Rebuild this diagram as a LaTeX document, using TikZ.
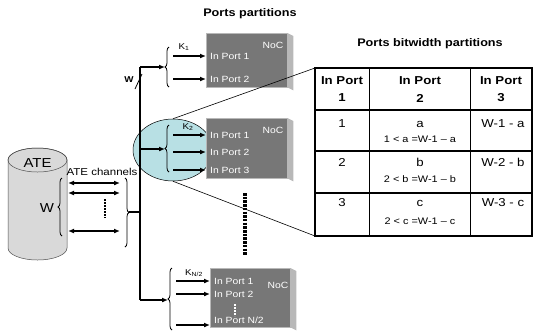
\documentclass[tikz,border=0pt]{standalone}
\usepackage{fontspec}
\setmainfont{Liberation Sans}[FakeStretch=1.15]
\usetikzlibrary{arrows.meta,calc,shapes.geometric,decorations.pathreplacing}
\definecolor{nocgray}{HTML}{777777}
\definecolor{nocside}{HTML}{B8B8B8}
\definecolor{zoomblue}{HTML}{B8E0E4}
\definecolor{ategray}{HTML}{D9D9D9}

\begin{document}
\begin{tikzpicture}[x=1pt,y=-1pt,
    conn/.style={line width=1.3pt},
    arr/.style={line width=1.3pt,-{Latex[length=6pt,width=5pt]}},
    darr/.style={line width=1.3pt,{Latex[length=6pt,width=5pt]}-{Latex[length=6pt,width=5pt]}},
    bracepath/.style={decorate,decoration={brace,amplitude=4pt},line width=0.8pt},
    noc/.style={draw=nocside,fill=nocgray,anchor=north west,inner sep=0pt},
    port/.style={anchor=west,inner xsep=4pt,inner ysep=0pt,text=white,font=\fontsize{9}{10}\selectfont},
    nocname/.style={text=white,inner sep=0pt,font=\fontsize{9}{10}\selectfont},
    klabel/.style={inner sep=0pt,font=\fontsize{8.5}{9}\selectfont},
    title/.style={inner sep=0pt,font=\bfseries\fontsize{11}{13}\selectfont},
    hdr/.style={inner sep=0pt,font=\bfseries\fontsize{11.5}{13}\selectfont},
    cell/.style={inner sep=0pt,font=\fontsize{11.5}{13}\selectfont},
    subcell/.style={inner sep=0pt,font=\fontsize{9.5}{11}\selectfont},
    bigdots/.style={dash pattern=on 2.5pt off 1.2pt}]
    \useasboundingbox (0,0) rectangle (533,333);

    % ATE cylinder
    \filldraw[fill=ategray,draw=black!70,line width=0.5pt] (8,160) -- (8,248)
        arc[start angle=180,end angle=360,x radius=29.5pt,y radius=12pt] -- (67,160)
        arc[start angle=0,end angle=180,x radius=29.5pt,y radius=12pt] -- cycle;
    \draw[black!70,line width=0.5pt] (37.5,160) ellipse[x radius=29.5pt,y radius=12pt];
    \node[inner sep=0pt,font=\fontsize{13}{14}\selectfont] (ate) at (37.5,163) {ATE};
    \node[inner sep=0pt,font=\fontsize{13}{14}\selectfont] (w) at (47,208) {W};
    \node[inner sep=0pt,font=\fontsize{10}{11}\selectfont] (channels) at (102,172) {ATE channels};
    \draw[bracepath] (62,236) -- (62,178);

    % channels
    \foreach \i/\y in {1/183,2/193,3/231} {
        \coordinate (chl\i) at (68,\y);
        \coordinate (chr\i) at (120,\y);
        \draw[darr] (chl\i) -- (chr\i);
    }
    \draw[line width=2.5pt,dash pattern=on 2pt off 1pt] (105,199) -- (105,218);
    \draw[bracepath] (125,178) -- (125,247);
    \coordinate (atetip) at (129,212);

    % zoom ellipse
    \node[ellipse,draw,fill=zoomblue,minimum width=80,minimum height=62,line width=0.5pt] (zoom) at (173,150) {};

    % bus
    \coordinate (bus1) at (140,67);
    \coordinate (bus2) at (140,149);
    \coordinate (bus3) at (140,300);
    \coordinate (busw) at (140,212);
    \draw[conn] (atetip) -- (busw);
    \draw[conn] (bus1) -- (bus3);
    \draw[arr] (bus1) -- (165,67);
    \draw[arr] (bus2) -- (165,149);
    \draw[arr] (bus3) -- (168,300);
    \draw[line width=0.8pt] (135,89) -- (142,74);
    \node[inner sep=0pt,font=\bfseries\fontsize{8.5}{9}\selectfont] (wbus) at (129,80) {W};

    % NoC 1
    \node[noc,minimum width=81,minimum height=54] (noc1) at (206,33) {};
    \fill[nocside] (noc1.north east) -- ++(6,3) -- ($(noc1.south east)+(6,3)$) -- (noc1.south east) -- cycle;
    \node[nocname] (noc1name) at (273,45) {NoC};
    \node[port] (p11) at (206,56) {In Port 1};
    \node[port] (p12) at (206,79) {In Port 2};
    \draw[bracepath] (169,87) -- (169,47);
    \node[klabel] (k1) at (184,47) {K\textsubscript{1}};
    \draw[arr] (173,56) -- (p11.west);
    \draw[arr] (173,79) -- (p12.west);

    % NoC 2
    \node[noc,minimum width=81,minimum height=60] (noc2) at (206,118) {};
    \fill[nocside] (noc2.north east) -- ++(6,3) -- ($(noc2.south east)+(6,3)$) -- (noc2.south east) -- cycle;
    \node[nocname] (noc2name) at (273,130) {NoC};
    \node[port] (p21) at (206,135) {In Port 1};
    \node[port] (p22) at (206,152) {In Port 2};
    \node[port] (p23) at (206,170) {In Port 3};
    \draw[bracepath] (169,172) -- (169,125);
    \node[klabel] (k2) at (188,127) {K\textsubscript{2}};
    \draw[arr] (173,135) -- (p21.west);
    \draw[arr] (173,152) -- (p22.west);
    \draw[arr] (173,170) -- (p23.west);

    \draw[line width=3.5pt,bigdots] (245,193) -- (245,255);

    % NoC N/2
    \node[noc,minimum width=80,minimum height=59] (noc3) at (210,268) {};
    \fill[nocside] (noc3.north east) -- ++(6,3) -- ($(noc3.south east)+(6,3)$) -- (noc3.south east) -- cycle;
    \node[nocname] (noc3name) at (278,285) {NoC};
    \node[port] (p31) at (210,281) {In Port 1};
    \node[port] (p32) at (210,294) {In Port 2};
    \node[port] (p33) at (210,320) {In Port N/2};
    \draw[white,line width=2.5pt,dash pattern=on 2pt off 1pt] (235,304) -- (235,316);
    \draw[bracepath] (172,330) -- (172,268);
    \node[klabel] (k3) at (194,273) {K\textsubscript{N/2}};
    \draw[arr] (176,281) -- (p31.west);
    \draw[arr] (176,294) -- (p32.west);
    \draw[arr] (176,325) -- (210,325);

    % titles
    \node[title] (ttl1) at (250,14) {Ports partitions};
    \node[title] (ttl2) at (430,44) {Ports bitwidth partitions};

    % table
    \coordinate (tbltl) at (315,68);
    \coordinate (tblbl) at (315,236);
    \coordinate (tblbr) at (532,236);
    \draw[line width=1pt] (369,68) -- (369,236);
    \draw[line width=1pt] (470,68) -- (470,236);
    \foreach \y in {110,151,193}
        \draw[line width=1.6pt] (315,\y) -- (532,\y);
    \draw[line width=1.6pt] (tbltl) rectangle (tblbr);
    \foreach \x/\n in {342/1,420/2,501/3} {
        \node[hdr] (hdr\n) at (\x,81) {In Port};
        \node[hdr] (hnum\n) at (\x,98) {\n};
    }
    \foreach \n/\y/\ys/\v/\lo/\rest in {1/124/139/a/1/W-1 - a,2/162/179/b/2/W-2 - b,3/203/221/c/2/W-3 - c} {
        \node[cell] (ca\n) at (342,\y) {\n};
        \node[cell] (cb\n) at (420,\y) {\v};
        \node[subcell] (cs\n) at (420,\ys) {\lo{} < \v{} =W-1 \textendash{} \v};
        \node[cell] (cc\n) at (503,\y) {\rest};
    }

    % zoom lines
    \draw[line width=0.6pt] (zoom.north) -- (tbltl);
    \draw[line width=0.6pt] (zoom.south) -- (tblbl);
\end{tikzpicture}
\end{document}
